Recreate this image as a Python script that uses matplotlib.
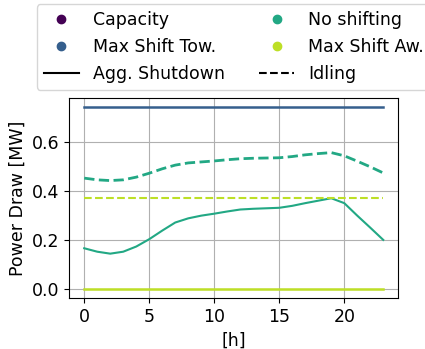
import matplotlib
matplotlib.use("Agg")
import matplotlib.pyplot as plt
from matplotlib.lines import Line2D
import numpy as np

hours = np.arange(24)

# power draw [MW]
capacity = [0.74] * 24
max_shift_tow = [0.74] * 24
no_shift_shutdown = [0.166, 0.152, 0.144, 0.152, 0.173, 0.203, 0.238, 0.271,
                     0.288, 0.299, 0.307, 0.316, 0.324, 0.327, 0.329, 0.331,
                     0.339, 0.350, 0.360, 0.370, 0.350, 0.299, 0.250, 0.200]
no_shift_idle = [0.452, 0.445, 0.442, 0.445, 0.456, 0.472, 0.490, 0.505,
                 0.514, 0.518, 0.522, 0.527, 0.531, 0.533, 0.534, 0.535,
                 0.540, 0.547, 0.552, 0.556, 0.543, 0.521, 0.498, 0.473]
max_shift_aw_shutdown = [0.0] * 24
max_shift_aw_idle = [0.37] * 24

names = ['Capacity', 'Max Shift Tow.', 'No shifting', 'Max Shift Aw.']
cols = [plt.cm.viridis(v) for v in [0.0, 0.3, 0.6, 0.9]]

plt.rcParams['font.size'] = 12.5

fig = plt.figure(figsize=(4.25, 3.49), dpi=100)
ax = fig.add_axes([0.163, 0.146, 0.774, 0.572])

ax.plot(hours, max_shift_tow, color=cols[1], lw=1.8)
ax.plot(hours, no_shift_idle, color=cols[2], lw=2, ls='--')
ax.plot(hours, no_shift_shutdown, color=cols[2], lw=1.5)
ax.plot(hours, max_shift_aw_idle, color=cols[3], lw=1.5, ls='--')
ax.plot(hours, max_shift_aw_shutdown, color=cols[3], lw=1.8)

ax.set_xticks([0, 5, 10, 15, 20])
ax.set_yticks([0.0, 0.2, 0.4, 0.6])
ax.set_xlabel('[h]')
ax.set_ylabel('Power Draw [MW]')
ax.grid(True)

handles = [Line2D([], [], ls='', marker='o', color=cols[0]),
           Line2D([], [], ls='', marker='o', color=cols[1]),
           Line2D([], [], color='k'),
           Line2D([], [], ls='', marker='o', color=cols[2]),
           Line2D([], [], ls='', marker='o', color=cols[3]),
           Line2D([], [], color='k', ls='--')]
labels = [names[0], names[1], 'Agg. Shutdown', names[2], names[3], 'Idling']
ax.legend(handles, labels, ncol=2, loc='lower center', bbox_to_anchor=(0.5, 1.0))

fig.savefig('out.png')
